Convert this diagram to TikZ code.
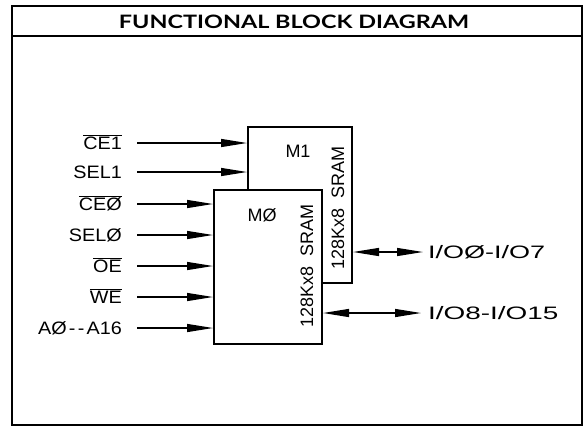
\documentclass[tikz,border=0pt]{standalone}
\usepackage{graphicx}
\usepackage{fontspec}
\setmainfont{Liberation Sans}
\newfontfamily\titlefont{Lato}
\usetikzlibrary{arrows.meta}
\newcommand\ovl[1]{$\overline{\hbox{#1}}$}
\newcommand\wide[2]{\scalebox{#1}[1]{#2}}
\begin{document}
\begin{tikzpicture}[x=1pt,y=-1pt,
  tipend/.style={-{Triangle[length=26pt,width=8pt]}},
  bitip/.style={{Triangle[length=26pt,width=8pt]}-{Triangle[length=26pt,width=8pt]}},
  wire/.style={line width=1.3pt},
  chip/.style={draw,line width=2pt,fill=white,inner sep=0pt},
  lbl/.style={inner sep=0pt,font=\fontsize{18}{18}\selectfont},
  inlbl/.style={lbl,anchor=base east},
  iolbl/.style={lbl,anchor=base west}]
\useasboundingbox (0,0) rectangle (586,429);
% frame
\draw[line width=2.2pt] (12,6) rectangle (582,425);
\draw[line width=2.2pt] (12,36) -- (582,36);
\node[inner sep=0pt] (title) at (294,22) {\resizebox{350pt}{13.5pt}{\titlefont\bfseries FUNCTIONAL BLOCK DIAGRAM}};
% chips
\node[chip,minimum width=104pt,minimum height=156pt] (m1) at (300,205) {};
\node[lbl] (m1name) at (298,151) {M1};
\node[lbl,rotate=90] (m1type) at (338,208) {128Kx8\ \ SRAM};
\node[chip,minimum width=108pt,minimum height=154pt] (m0) at (268,267) {};
\node[lbl] (m0name) at (262,215) {MØ};
\node[lbl,rotate=90] (m0type) at (307,266) {128Kx8\ \ SRAM};
% input start points
\coordinate (pce1) at (137,143);
\coordinate (psel1) at (137,172);
\coordinate (pce0) at (137,204);
\coordinate (psel0) at (137,235);
\coordinate (poe) at (137,266);
\coordinate (pwe) at (137,297);
\coordinate (pa) at (137,328);
% input labels
\node[inlbl] (lce1) at (122,149) {\wide{1.1}{\ovl{CE1}}};
\node[inlbl] (lsel1) at (122,178) {\wide{1.1}{SEL1}};
\node[inlbl] (lce0) at (122,210) {\wide{1.1}{\ovl{CEØ}}};
\node[inlbl] (lsel0) at (122,241) {\wide{1.1}{SELØ}};
\node[inlbl] (loe) at (122,272) {\wide{1.1}{\ovl{OE}}};
\node[inlbl] (lwe) at (122,303) {\wide{1.1}{\ovl{WE}}};
\node[inlbl] (la) at (122,334) {\wide{1.1}{AØ\kern2pt-\kern2pt-\kern2pt A16}};
% input arrows
\draw[wire,tipend] (pce1) -- (pce1 -| m1.west);
\draw[wire,tipend] (psel1) -- (psel1 -| m1.west);
\draw[wire,tipend] (pce0) -- (pce0 -| m0.west);
\draw[wire,tipend] (psel0) -- (psel0 -| m0.west);
\draw[wire,tipend] (poe) -- (poe -| m0.west);
\draw[wire,tipend] (pwe) -- (pwe -| m0.west);
\draw[wire,tipend] (pa) -- (pa -| m0.west);
% I/O
\coordinate (pio1) at (423,252);
\coordinate (pio2) at (421,313);
\node[iolbl] (lio1) at (428,258.5) {\wide{1.5}{I/OØ-I/O7}};
\node[iolbl] (lio2) at (428,319.5) {\wide{1.55}{I/O8-I/O15}};
\draw[wire,bitip] (pio1 -| m1.east) -- (pio1);
\draw[wire,bitip] (pio2 -| m0.east) -- (pio2);
\end{tikzpicture}
\end{document}
